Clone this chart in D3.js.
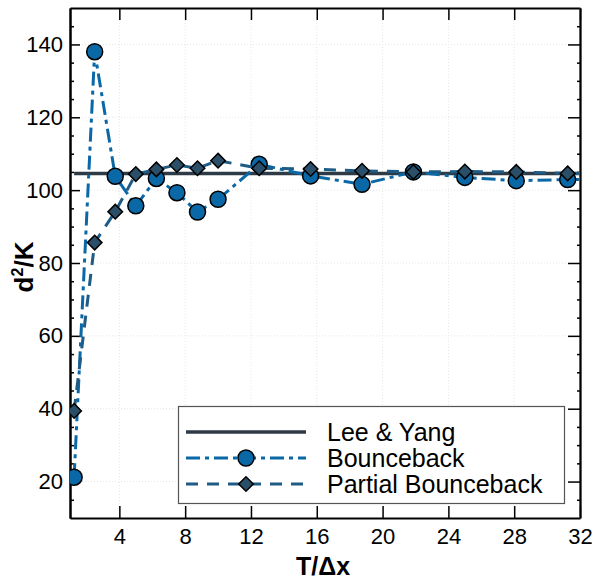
<!DOCTYPE html>
<html>
<head>
<meta charset="utf-8">
<script src="https://cdn.jsdelivr.net/npm/d3@7"></script>
<style>
  body { margin: 0; background: #fff; }
  svg text { font-family: "Liberation Sans", Arial, sans-serif; }
</style>
</head>
<body>
<svg id="chart" width="592" height="579"></svg>
<script>
// ── data ──────────────────────────────────────────────
const spacings   = [1.25, 2.5, 3.75, 5, 6.25, 7.5, 8.75, 10, 12.5, 15.625, 18.75, 21.875, 25, 28.125, 31.25, 34.375];
const bounce     = [21.2, 138.0, 103.8, 95.7, 103.2, 99.3, 94.0, 97.5, 107.1, 103.9, 101.6, 105.0, 103.5, 102.6, 102.9, 103.0];
const partial    = [39.4, 85.6, 94.1, 104.4, 105.7, 106.9, 106.0, 108.1, 106.0, 105.8, 105.3, 105.0, 105.1, 105.0, 104.6, 104.5];
const leeYangX   = [1.25, 34.375];
const leeYangVal = 104.6;
const xTicks = [4, 8, 12, 16, 20, 24, 28, 32];
const yTicks = [20, 40, 60, 80, 100, 120, 140];
const legendNames = ['Lee & Yang', 'Bounceback', 'Partial Bounceback'];

// ── layout ────────────────────────────────────────────
const L = 70, R = 580, T = 8, B = 518;
const svg = d3.select('#chart');
const x = d3.scaleLinear().domain([1, 32]).range([L, R]);
const y = d3.scaleLinear().domain([10, 150]).range([B, T]);

const C_LEE = '#2e3b46', C_BB = '#0a68a6', C_PB = '#1e5c86', C_DIA = '#2b4f68';

svg.append('defs').append('clipPath').attr('id', 'clip')
  .append('rect').attr('x', L).attr('y', T).attr('width', R - L).attr('height', B - T);

// faint dotted grid
const grid = svg.append('g').attr('stroke', '#e6e6e6').attr('stroke-width', 1).attr('stroke-dasharray', '1,2');
grid.selectAll('.gx').data(xTicks.slice(0, -1)).join('line')
  .attr('x1', d => x(d)).attr('x2', d => x(d)).attr('y1', T).attr('y2', B);
grid.selectAll('.gy').data(yTicks).join('line')
  .attr('y1', d => y(d)).attr('y2', d => y(d)).attr('x1', L).attr('x2', R);

// ── axes ──────────────────────────────────────────────
const minorY = d3.range(15, 150, 5).filter(v => v % 20 !== 0);

svg.append('g').attr('transform', `translate(0,${B})`)
  .call(d3.axisBottom(x).tickValues(xTicks).tickSizeInner(-12).tickSizeOuter(0).tickPadding(10));
svg.append('g').attr('transform', `translate(0,${T})`)
  .call(d3.axisTop(x).tickValues(xTicks).tickSizeInner(-12).tickSizeOuter(0).tickFormat(''));
svg.append('g').attr('transform', `translate(${L},0)`)
  .call(d3.axisLeft(y).tickValues(yTicks).tickSizeInner(-10).tickSizeOuter(0).tickPadding(7));
const yr = svg.append('g').attr('transform', `translate(${R},0)`)
  .call(d3.axisRight(y).tickValues(yTicks).tickSizeInner(-12).tickSizeOuter(0).tickFormat(''));
svg.append('g').attr('transform', `translate(${L},0)`)
  .call(d3.axisLeft(y).tickValues(minorY).tickSizeInner(-4).tickSizeOuter(0).tickFormat(''));
svg.append('g').attr('transform', `translate(${R},0)`)
  .call(d3.axisRight(y).tickValues(minorY).tickSizeInner(-3).tickSizeOuter(0).tickFormat(''));

svg.selectAll('.domain').attr('stroke', '#000').attr('stroke-width', 2);
svg.selectAll('.tick line').attr('stroke', '#000').attr('stroke-width', 1.5);
yr.select('.domain').attr('stroke', '#777');
svg.selectAll('.tick text').attr('font-size', 22).attr('fill', '#000')
  .attr('font-family', '"Liberation Sans", Arial, sans-serif');

// axis titles
svg.append('text').attr('x', 323).attr('y', 575).attr('text-anchor', 'middle')
  .attr('font-size', 25).attr('font-weight', 'bold').text('T/Δx');
const yt = svg.append('text').attr('transform', 'translate(33,267) rotate(-90)')
  .attr('text-anchor', 'middle').attr('font-size', 26).attr('font-weight', 'bold');
yt.append('tspan').text('d');
yt.append('tspan').attr('font-size', 16).attr('dy', -10).text('2');
yt.append('tspan').attr('dy', 10).text('/K');

// ── series ────────────────────────────────────────────
const plot = svg.append('g').attr('clip-path', 'url(#clip)');
const line = d3.line().x(d => x(d[0])).y(d => y(d[1]));

plot.append('path').datum(leeYangX.map(v => [v, leeYangVal]))
  .attr('d', line).attr('fill', 'none').attr('stroke', C_LEE).attr('stroke-width', 3.5);

const bbPts = spacings.map((s, i) => [s, bounce[i]]);
const pbPts = spacings.map((s, i) => [s, partial[i]]);

plot.append('path').datum(bbPts).attr('d', line).attr('fill', 'none')
  .attr('stroke', C_BB).attr('stroke-width', 3).attr('stroke-dasharray', '14,5,4,5');
plot.selectAll('.bb').data(bbPts).join('circle').attr('class', 'bb')
  .attr('cx', d => x(d[0])).attr('cy', d => y(d[1])).attr('r', 8)
  .attr('fill', C_BB).attr('stroke', '#000').attr('stroke-width', 1.5);

const diamond = d3.symbol().type(d3.symbolDiamond2).size(135);
plot.append('path').datum(pbPts).attr('d', line).attr('fill', 'none')
  .attr('stroke', C_PB).attr('stroke-width', 3).attr('stroke-dasharray', '12,9');
plot.selectAll('.pb').data(pbPts).join('path').attr('class', 'pb')
  .attr('d', diamond).attr('transform', d => `translate(${x(d[0])},${y(d[1])})`)
  .attr('fill', C_DIA).attr('stroke', '#000').attr('stroke-width', 1.5);

// ── legend ────────────────────────────────────────────
const lg = svg.append('g');
lg.append('rect').attr('x', 178.5).attr('y', 406.5).attr('width', 386).attr('height', 97)
  .attr('fill', '#fff').attr('stroke', '#555').attr('stroke-width', 1.2);
const rowY = [432, 458, 484];
const styles = [
  { c: C_LEE, dash: null, w: 3.5 },
  { c: C_BB, dash: '14,5,4,5', w: 3 },
  { c: C_PB, dash: '12,9', w: 3 }
];
legendNames.forEach((name, i) => {
  lg.append('line').attr('x1', 186).attr('x2', 306).attr('y1', rowY[i]).attr('y2', rowY[i])
    .attr('stroke', styles[i].c).attr('stroke-width', styles[i].w)
    .attr('stroke-dasharray', styles[i].dash);
  lg.append('text').attr('x', 327).attr('y', rowY[i] + 9).attr('font-size', 25).text(name);
});
lg.append('circle').attr('cx', 246).attr('cy', rowY[1]).attr('r', 8)
  .attr('fill', C_BB).attr('stroke', '#000').attr('stroke-width', 1.5);
lg.append('path').attr('d', diamond).attr('transform', `translate(246,${rowY[2]})`)
  .attr('fill', C_DIA).attr('stroke', '#000').attr('stroke-width', 1.5);
</script>
</body>
</html>
